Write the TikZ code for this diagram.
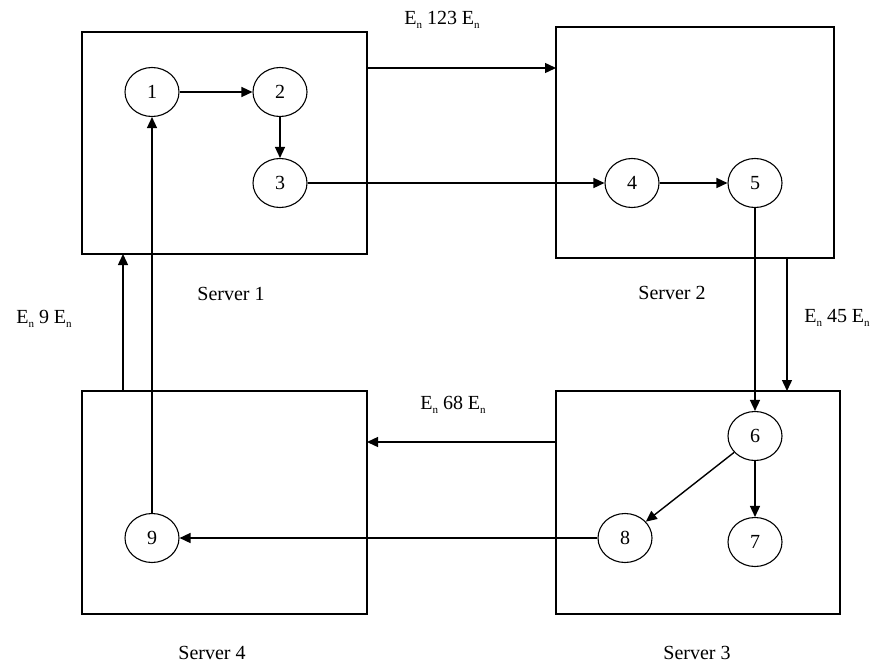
\documentclass[tikz,border=0pt]{standalone}
\usepackage[dvipsnames, svgnames]{xcolor}
\usepackage{fontspec}
\setmainfont{Liberation Serif}
\usepackage{tikz}
\usetikzlibrary{shapes.geometric, arrows.meta, positioning}

\newcommand{\En}{E\raisebox{-0.45ex}{\fontsize{11}{11}\selectfont n}}

\begin{document}
\begin{tikzpicture}[x=1pt, y=-1pt,
    every node/.style={font=\fontsize{20}{23}\selectfont},
    serverbox/.style={draw, line width=1.4pt, rectangle, inner sep=0pt, outer sep=0pt},
    task/.style={draw, line width=1.1pt, ellipse, minimum width=54pt, minimum height=49pt, inner sep=0pt},
    arr/.style={line width=1.4pt, -{Triangle[length=11pt, width=10pt]}}]
  \useasboundingbox (0,0) rectangle (879,667);
  % servers: box (center, size) then caption
  \node[serverbox, minimum width=285pt, minimum height=222pt] (s1) at (224.5,143) {};
  \node[serverbox, minimum width=278pt, minimum height=231pt] (s2) at (695,142.5) {};
  \node[serverbox, minimum width=284pt, minimum height=223pt] (s3) at (698,502.5) {};
  \node[serverbox, minimum width=285pt, minimum height=223pt] (s4) at (224.5,502.5) {};
  \node (s1lbl) at (231,294) {Server 1};
  \node (s2lbl) at (672,293) {Server 2};
  \node (s3lbl) at (697,653) {Server 3};
  \node (s4lbl) at (212,653) {Server 4};

  % tasks
  \node[task] (t1) at (152,92) {1};
  \node[task] (t2) at (280,92) {2};
  \node[task] (t3) at (280,183) {3};
  \node[task] (t4) at (632,183) {4};
  \node[task] (t5) at (755,183) {5};
  \node[task] (t6) at (755,436) {6};
  \node[task] (t7) at (755,542) {7};
  \node[task] (t8) at (625,538) {8};
  \node[task] (t9) at (152,538) {9};

  % task flow
  \draw[arr] (t1) -- (t2);
  \draw[arr] (t2) -- (t3);
  \draw[arr] (t3) -- (t4);
  \draw[arr] (t4) -- (t5);
  \draw[arr] (t5) -- (t6);
  \draw[arr] (t6) -- (t7);
  \draw[arr] (t6) -- (t8);
  \draw[arr] (t8) -- (t9);
  \draw[arr] (t9) -- (t1);

  % links between servers
  \coordinate (l12) at (0,68);
  \coordinate (l23) at (787,0);
  \coordinate (l34) at (0,442);
  \coordinate (l41) at (123,0);
  \draw[arr] (s1.east |- l12) -- (s2.west |- l12);
  \draw[arr] (s2.south -| l23) -- (s3.north -| l23);
  \draw[arr] (s3.west |- l34) -- (s4.east |- l34);
  \draw[arr] (s4.north -| l41) -- (s1.south -| l41);
  \node (e12) at (442,20) {\En{} 123 \En};
  \node (e23) at (837,318) {\En{} 45 \En};
  \node (e34) at (453,405) {\En{} 68 \En};
  \node (e41) at (44,319) {\En{} 9 \En};
\end{tikzpicture}
\end{document}
